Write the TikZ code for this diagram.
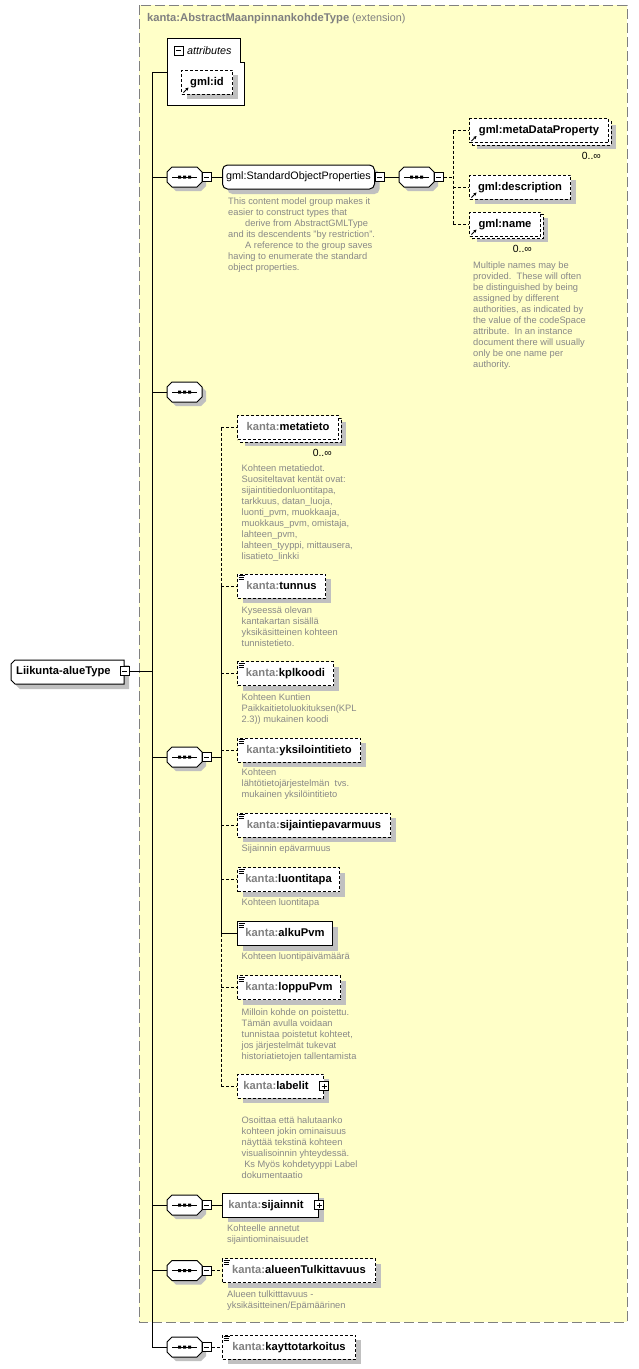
\documentclass[tikz,border=0pt]{standalone}
\usepackage{fontspec}
\setmainfont{Liberation Sans}
\usetikzlibrary{shadows,arrows.meta,calc}
\definecolor{yel}{HTML}{FFFFC8}
\definecolor{shadowgray}{HTML}{C0C0C0}
\definecolor{kgray}{HTML}{808080}
\definecolor{dgray}{HTML}{888888}
\newcommand\xlab{\fontsize{11.2}{13}\selectfont\bfseries}
\newcommand\xreg{\fontsize{10.8}{13}\selectfont}
\newcommand\xdesc{\fontsize{9.3}{11}\selectfont}
\newcommand\xmul{\fontsize{10.4}{12}\selectfont}
\newcommand\kn[1]{{\color{kgray}kanta:}#1}
\newcommand\eqicon[1]{\draw[line width=0.9pt] ([shift={(1.5,2)}]#1.north west) -- ++(6.5,0) ([shift={(1.5,4)}]#1.north west) -- ++(5,0) ([shift={(1.5,6)}]#1.north west) -- ++(5,0);}
\newcommand\refarrow[1]{\draw[line width=0.9pt, -{Stealth[length=3.2pt,width=3.2pt]}] ([shift={(2.5,-2)}]#1.south west) -- ++(5,-5);}
\tikzset{
 ln/.style={line width=1pt},
 dln/.style={line width=1pt, dash pattern=on 3pt off 2pt},
 optd/.style={dash pattern=on 3pt off 2pt},
 shd/.style={general shadow={fill=shadowgray, shadow xshift=5pt, shadow yshift=-5pt}},
 mshd/.style={general shadow={fill=shadowgray, shadow xshift=7pt, shadow yshift=-6pt},
              general shadow={fill=white, draw=black, line width=1pt, dash pattern=on 3pt off 2pt, shadow xshift=2.5pt, shadow yshift=-2.5pt}},
 elem/.style={draw, fill=white, line width=1pt, minimum height=24pt, inner sep=0pt, anchor=west, font=\xlab, text height=8.2pt, text depth=1.8pt},
 minusbox/.style={draw, fill=white, line width=0.9pt, minimum size=9pt, inner sep=0pt,
   path picture={\draw[line width=0.9pt] ([xshift=2pt]path picture bounding box.west) -- ([xshift=-2pt]path picture bounding box.east);}},
 plusbox/.style={draw, fill=white, line width=0.9pt, minimum size=9pt, inner sep=0pt,
   path picture={\draw[line width=0.9pt] ([xshift=2pt]path picture bounding box.west) -- ([xshift=-2pt]path picture bounding box.east) ([yshift=-2pt]path picture bounding box.north) -- ([yshift=2pt]path picture bounding box.south);}},
 desc/.style={anchor=north west, inner sep=0pt, align=left, font=\xdesc, text=dgray},
 mult/.style={anchor=east, inner sep=0pt, font=\xmul},
 seq/.pic={
   \fill[shadowgray] (9,-6) -- (34,-6) -- (39,-1) -- (39,9) -- (34,14) -- (9,14) -- (4,9) -- (4,-1) -- cycle;
   \draw[line width=1pt, fill=white] (5,-10) -- (30,-10) -- (35,-5) -- (35,5) -- (30,10) -- (5,10) -- (0,5) -- (0,-5) -- cycle;
   \draw[line width=1pt] (5,0) -- (30,0);
   \fill (11,-1.5) rectangle (14,1.5) (16,-1.5) rectangle (19,1.5) (21,-1.5) rectangle (24,1.5);
   \coordinate (-w) at (0,0);
   \coordinate (-e) at (35,0);
 }
}
\begin{document}
\begin{tikzpicture}[x=1pt,y=-1pt]
\path[use as bounding box, fill=white] (0,0) rectangle (638,1369);
% extension box
\fill[yel] (139,5) rectangle (627,1322);
\draw[kgray, line width=1pt, dash pattern=on 10pt off 4pt] (139,5) rectangle (627,1322);
\node[anchor=west, inner sep=0pt, text=kgray] (title) at (147,19) {{\xlab kanta:AbstractMaanpinnankohdeType} {\xreg(extension)}};

% main trunk
\coordinate (mtop) at (152,72);
\coordinate (mbot) at (152,1347);
\draw[ln] (mtop) -- (mbot);

% root
\fill[shadowgray] (20,665) -- (129,665) -- (129,689) -- (20,689) -- (16,685) -- (16,669) -- cycle;
\draw[line width=1pt, fill=white] (15,660) -- (124,660) -- (124,684) -- (15,684) -- (11,680) -- (11,664) -- cycle;
\node[inner sep=0pt, font=\xlab, anchor=west] (root) at (16,672) {Liikunta-alueType};
\node[minusbox] (rootm) at (124.5,671) {};
\draw[ln] (rootm.east) -- (rootm.east -| mtop);

% attributes
\draw[line width=1pt, fill=white] (167,38) -- (240,38) -- (240,62) -- (244,62) -- (244,105) -- (167,105) -- cycle;
\node[minusbox] (attrm) at (178.5,50.5) {};
\node[anchor=west, inner sep=0pt, font=\xreg\itshape] (attrt) at (187,50.5) {attributes};
\coordinate (attr) at (167,72);
\draw[ln] (attr) -- (mtop);
\node[elem, optd, shd, minimum width=51pt] (gid) at (181,82) {gml:id};
\refarrow{gid}

% sequence 1 with group
\pic (s1) at (167,177) {seq};
\node[minusbox, anchor=west] (s1m) at (s1-e) {};
\draw[ln] (s1-w) -- (s1-w -| mtop);
\node[draw, fill=white, line width=1pt, rounded corners=5pt, minimum width=152pt, minimum height=24pt, inner sep=0pt, anchor=west, font=\xreg, shd] (grp) at (222,177) {gml:StandardObjectProperties};
\draw[ln] (s1m.east) -- (grp.west);
\node[minusbox, anchor=west] (grpm) at (grp.east) {};
\node[desc] (grpd) at (228,198) {This content model group makes it\\easier to construct types that\\\hspace*{17pt}derive from AbstractGMLType\\and its descendents "by restriction".\\\hspace*{17pt}A reference to the group saves\\having to enumerate the standard\\object properties.};

% sequence 2
\pic (s2) at (399,177) {seq};
\draw[ln] (grpm.east) -- (s2-w);
\node[minusbox, anchor=west] (s2m) at (s2-e) {};
\coordinate (v2) at (453,177);
\draw[dln] (s2m.east) -- (v2);
\node[elem, optd, mshd, minimum width=139pt] (mdp) at (469,130.5) {gml:metaDataProperty};
\node[elem, optd, shd, minimum width=101pt] (gdesc) at (469,187) {gml:description};
\node[elem, optd, mshd, minimum width=71pt] (gname) at (469,224) {gml:name};
\refarrow{mdp}\refarrow{gdesc}\refarrow{gname}
\draw[dln] (v2 |- mdp.west) -- (v2 |- gname.west);
\draw[dln] (mdp.west -| v2) -- (mdp.west);
\draw[dln] (gdesc.west -| v2) -- (gdesc.west);
\draw[dln] (gname.west -| v2) -- (gname.west);
\node[mult] (mdpm) at (601,156) {0..∞};
\node[mult] (gnamem) at (532,249) {0..∞};
\node[desc] (gnamed) at (473,262) {Multiple names may be\\provided.\ \ These will often\\be distinguished by being\\assigned by different\\authorities, as indicated by\\the value of the codeSpace\\attribute.\ \ In an instance\\document there will usually\\only be one name per\\authority.};

% sequence 3
\pic (s3) at (167,392) {seq};
\draw[ln] (s3-w) -- (s3-w -| mtop);

% sequence 4
\pic (s4) at (167,757) {seq};
\draw[ln] (s4-w) -- (s4-w -| mtop);
\node[minusbox, anchor=west] (s4m) at (s4-e) {};
\coordinate (v4) at (221,757);
\draw[ln] (s4m.east) -- (v4);

\node[elem, optd, mshd, minimum width=101pt] (meta) at (237,427.5) {\kn{metatieto}};
\node[mult] (metam) at (332,453) {0..∞};
\node[desc] (metad) at (241.5,465) {Kohteen metatiedot.\\Suositeltavat kentät ovat:\\sijaintitiedonluontitapa,\\tarkkuus, datan\_luoja,\\luonti\_pvm, muokkaaja,\\muokkaus\_pvm, omistaja,\\lahteen\_pvm,\\lahteen\_tyyppi, mittausera,\\lisatieto\_linkki};

\node[elem, optd, shd, minimum width=88pt] (tun) at (237,586) {\kn{tunnus}};
\eqicon{tun}
\node[desc] (tund) at (241.5,607) {Kyseessä olevan\\kantakartan sisällä\\yksikäsitteinen kohteen\\tunnistetieto.};

\node[elem, optd, shd, minimum width=96pt] (kpl) at (237,673.5) {\kn{kplkoodi}};
\eqicon{kpl}
\node[desc] (kpld) at (241.5,694) {Kohteen Kuntien\\Paikkaitietoluokituksen(KPL\\2.3)) mukainen koodi};

\node[elem, optd, shd, minimum width=123pt] (yks) at (237,750) {\kn{yksilointitieto}};
\eqicon{yks}
\node[desc] (yksd) at (241.5,769) {Kohteen\\lähtötietojärjestelmän\ \ tvs.\\mukainen yksilöintitieto};

\node[elem, optd, shd, minimum width=153pt] (sep) at (237,825) {\kn{sijaintiepavarmuus}};
\eqicon{sep}
\node[desc] (sepd) at (241.5,845) {Sijainnin epävarmuus};

\node[elem, optd, shd, minimum width=102pt] (luo) at (237,879.5) {\kn{luontitapa}};
\eqicon{luo}
\node[desc] (luod) at (241.5,899) {Kohteen luontitapa};

\node[elem, shd, minimum width=95pt] (alku) at (237,933.5) {\kn{alkuPvm}};
\eqicon{alku}
\node[desc] (alkud) at (241.5,953) {Kohteen luontipäivämäärä};

\node[elem, optd, shd, minimum width=103pt] (lop) at (237,987.5) {\kn{loppuPvm}};
\eqicon{lop}
\node[desc] (lopd) at (241.5,1009) {Milloin kohde on poistettu.\\Tämän avulla voidaan\\tunnistaa poistetut kohteet,\\jos järjestelmät tukevat\\historiatietojen tallentamista};

\node[elem, optd, shd, minimum width=86pt] (lab) at (237,1086) {\kn{labelit}\hspace*{9pt}};
\node[plusbox] (labp) at (lab.east) {};
\node[desc] (labd) at (241.5,1117) {Osoittaa että halutaanko\\kohteen jokin ominaisuus\\näyttää tekstinä kohteen\\visualisoinnin yhteydessä.\\\ Ks Myös kohdetyyppi Label\\dokumentaatio};

\draw[dln] (v4 |- meta.west) -- (v4 |- tun.west);
\draw[ln] (v4 |- tun.west) -- (v4 |- alku.west);
\draw[dln] (v4 |- alku.west) -- (v4 |- lab.west);
\foreach \n in {meta,tun,kpl,yks,sep,luo,lop,lab}{\draw[dln] (\n.west -| v4) -- (\n.west);}
\draw[ln] (alku.west -| v4) -- (alku.west);

% sequence 5
\pic (s5) at (167,1205) {seq};
\draw[ln] (s5-w) -- (s5-w -| mtop);
\node[minusbox, anchor=west] (s5m) at (s5-e) {};
\node[elem, shd, minimum width=96pt] (sij) at (222,1205) {\kn{sijainnit}\hspace*{9pt}};
\node[plusbox] (sijp) at (sij.east) {};
\draw[ln] (s5m.east) -- (sij.west);
\node[desc] (sijd) at (227,1225) {Kohteelle annetut\\sijaintiominaisuudet};

% sequence 6
\pic (s6) at (167,1270.5) {seq};
\draw[ln] (s6-w) -- (s6-w -| mtop);
\node[minusbox, anchor=west] (s6m) at (s6-e) {};
\node[elem, optd, shd, minimum width=153pt] (alu) at (222,1270.5) {\kn{alueenTulkittavuus}};
\eqicon{alu}
\draw[dln] (s6m.east) -- (alu.west);
\node[desc] (alud) at (227,1291) {Alueen tulkitttavuus -\\yksikäsitteinen/Epämäärinen};

% sequence 7
\pic (s7) at (167,1347) {seq};
\draw[ln] (s7-w) -- (s7-w -| mtop);
\node[minusbox, anchor=west] (s7m) at (s7-e) {};
\node[elem, optd, shd, minimum width=133pt] (kay) at (222,1347) {\kn{kayttotarkoitus}};
\eqicon{kay}
\draw[dln] (s7m.east) -- (kay.west);
\end{tikzpicture}
\end{document}
